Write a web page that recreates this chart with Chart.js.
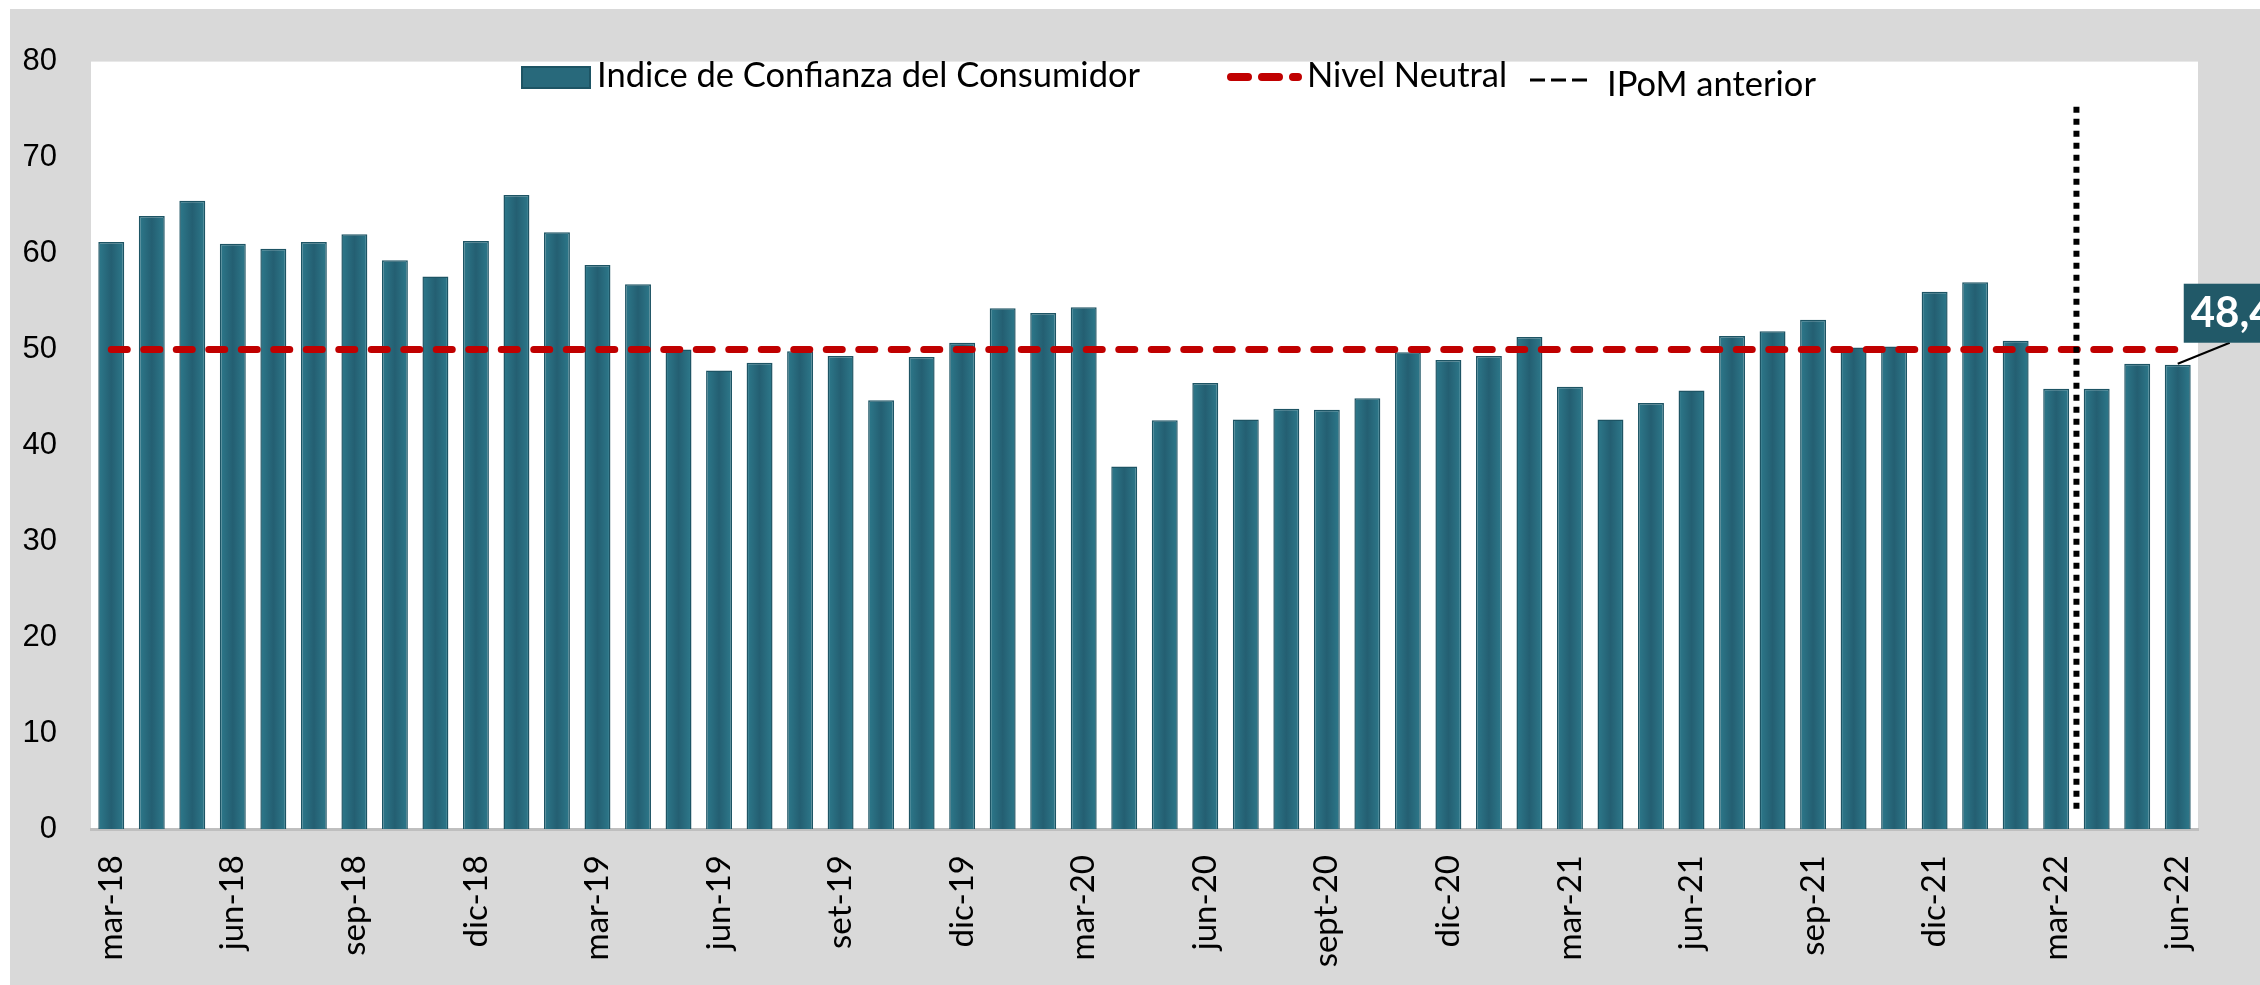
<!DOCTYPE html>
<html>
<head>
<meta charset="utf-8">
<script src="https://cdn.jsdelivr.net/npm/chart.js@4.4.0/dist/chart.umd.min.js"></script>
<style>
  html, body { margin: 0; padding: 0; background: #ffffff; }
  #marco {
    position: absolute; left: 10px; top: 9px;
    width: 2250px; height: 976px;
    background: #d9d9d9;
  }
  #grafico { display: block; width: 2250px; height: 976px; }
</style>
</head>
<body>
<div id="marco"><canvas id="grafico" width="2250" height="976"></canvas></div>
<script>
'use strict';

// meses (etiqueta en el eje cada tres)
var categorias = [
    'mar-18', 'abr-18', 'may-18', 'jun-18', 'jul-18', 'ago-18', 'sep-18', 'oct-18', 'nov-18', 'dic-18',
    'ene-19', 'feb-19', 'mar-19', 'abr-19', 'may-19', 'jun-19', 'jul-19', 'ago-19', 'set-19', 'oct-19', 'nov-19', 'dic-19',
    'ene-20', 'feb-20', 'mar-20', 'abr-20', 'may-20', 'jun-20', 'jul-20', 'ago-20', 'sept-20', 'oct-20', 'nov-20', 'dic-20',
    'ene-21', 'feb-21', 'mar-21', 'abr-21', 'may-21', 'jun-21', 'jul-21', 'ago-21', 'sep-21', 'oct-21', 'nov-21', 'dic-21',
    'ene-22', 'feb-22', 'mar-22', 'abr-22', 'may-22', 'jun-22'
];

// Indice de Confianza del Consumidor
var confianza = [
    61.2, 63.9, 65.5, 61.0, 60.5, 61.2, 62.0, 59.3, 57.6, 61.3,
    66.1, 62.2, 58.8, 56.8, 50.0, 47.8, 48.6, 49.8, 49.3, 44.7, 49.2, 50.7,
    54.3, 53.8, 54.4, 37.8, 42.6, 46.5, 42.7, 43.8, 43.7, 44.9, 49.7, 48.9,
    49.3, 51.3, 46.1, 42.7, 44.4, 45.7, 51.4, 51.9, 53.1, 50.2, 50.3, 56.0,
    57.0, 50.9, 45.9, 45.9, 48.5, 48.4
];

var nivelNeutral = [
    {x: 0, y: 50},
    {x: 51, y: 50}
];

// IPoM anterior: entre mar-22 y abr-22
var ipomAnterior = [
    {x: 48.5, y: 75.3},
    {x: 48.5, y: 1.5}
];

var ejeY = {min: 0, max: 80, paso: 10};
var cadaCuantos = 3;

var TEAL = '#28697b';
var TEAL_BORDE = '#1d5464';
var ROJO = '#c00000';
var FUENTE = 'Lato';

// fuente angosta para las fechas si esta instalada
function hayFuente(nombre) {
    var c = document.createElement('canvas').getContext('2d');
    c.font = '40px monospace';
    var a = c.measureText('mar-18 sept-20').width;
    c.font = '40px "' + nombre + '", monospace';
    var b = c.measureText('mar-18 sept-20').width;
    return a !== b;
}
var fuenteFechas = hayFuente('Liberation Sans Narrow') ?
    {family: 'Liberation Sans Narrow', size: 41} :
    {family: FUENTE, size: 33};

function degradadoBarra(context) {
    var chart = context.chart;
    if (!chart.chartArea || !chart.scales.x) {
        return TEAL;
    }
    var x = chart.scales.x.getPixelForValue(context.dataIndex);
    var g = chart.ctx.createLinearGradient(x - 13, 0, x + 13, 0);
    g.addColorStop(0, '#2d798b');
    g.addColorStop(0.5, '#245f72');
    g.addColorStop(1, '#2d798b');
    return g;
}

var fondoArea = {
    id: 'fondoArea',
    beforeDraw: function (chart) {
        var a = chart.chartArea;
        var ctx = chart.ctx;
        ctx.save();
        ctx.fillStyle = '#ffffff';
        ctx.fillRect(a.left, a.top, a.right - a.left, a.bottom - a.top);
        ctx.restore();
    }
};

// recuadro con el ultimo dato
var ultimoDato = {
    id: 'ultimoDato',
    afterDraw: function (chart) {
        var meta = chart.getDatasetMeta(2);
        var n = confianza.length - 1;
        var el = meta.data[n];
        var ctx = chart.ctx;
        var x = el.x, y = el.y;
        ctx.save();
        ctx.strokeStyle = '#000000';
        ctx.lineWidth = 2;
        ctx.beginPath();
        ctx.moveTo(x, y - 1);
        ctx.lineTo(x + 52, y - 22);
        ctx.stroke();
        ctx.fillStyle = '#215968';
        ctx.fillRect(x + 6, y - 81, 120, 59);
        ctx.fillStyle = '#ffffff';
        ctx.font = 'bold 42px ' + FUENTE;
        ctx.textBaseline = 'middle';
        ctx.textAlign = 'left';
        ctx.fillText(confianza[n].toFixed(1).replace('.', ','), x + 13, y - 51);
        ctx.restore();
    }
};

var leyenda = {
    id: 'leyenda',
    afterDraw: function (chart) {
        var ctx = chart.ctx;
        ctx.save();
        ctx.font = '34.5px ' + FUENTE;
        ctx.textBaseline = 'middle';

        // barras
        ctx.fillStyle = TEAL;
        ctx.strokeStyle = TEAL_BORDE;
        ctx.lineWidth = 2;
        ctx.fillRect(512, 58, 68, 21);
        ctx.strokeRect(512, 58, 68, 21);
        ctx.fillStyle = '#000000';
        ctx.fillText('Indice de Confianza del Consumidor', 587, 67);

        // nivel neutral
        ctx.strokeStyle = ROJO;
        ctx.lineWidth = 8;
        ctx.lineCap = 'round';
        ctx.setLineDash([17, 14]);
        ctx.beginPath();
        ctx.moveTo(1221, 68);
        ctx.lineTo(1288, 68);
        ctx.stroke();
        ctx.fillText('Nivel Neutral', 1297, 67);

        // IPoM anterior
        ctx.strokeStyle = '#000000';
        ctx.lineWidth = 3;
        ctx.lineCap = 'butt';
        ctx.setLineDash([15, 6]);
        ctx.beginPath();
        ctx.moveTo(1520, 71);
        ctx.lineTo(1578, 71);
        ctx.stroke();
        ctx.setLineDash([]);
        ctx.fillText('IPoM anterior', 1597, 76);
        ctx.restore();
    }
};

var ctx = document.getElementById('grafico');
var grafico = new Chart(ctx, {
    type: 'bar',
    data: {
        labels: categorias,
        datasets: [
            {
                type: 'line',
                label: 'IPoM anterior',
                data: ipomAnterior,
                xAxisID: 'x2',
                borderColor: '#000000',
                borderWidth: 6,
                borderDash: [6, 6],
                borderCapStyle: 'butt',
                pointRadius: 0,
                order: 1
            },
            {
                type: 'line',
                label: 'Nivel Neutral',
                data: nivelNeutral,
                xAxisID: 'x2',
                borderColor: ROJO,
                borderWidth: 7,
                borderDash: [16, 16.5],
                borderCapStyle: 'round',
                pointRadius: 0,
                order: 2
            },
            {
                label: 'Indice de Confianza del Consumidor',
                data: confianza,
                backgroundColor: degradadoBarra,
                borderColor: TEAL_BORDE,
                borderWidth: 1.5,
                grouped: false,
                barPercentage: 0.64,
                categoryPercentage: 1,
                order: 3
            }
        ]
    },
    options: {
        responsive: false,
        animation: false,
        devicePixelRatio: 1,
        layout: {
            padding: {left: 0, top: 46, right: 62, bottom: 0}
        },
        plugins: {
            legend: {display: false},
            tooltip: {enabled: false}
        },
        scales: {
            x: {
                grid: {display: false, drawTicks: false},
                border: {display: true, color: '#bfbfbf', width: 3},
                ticks: {
                    autoSkip: false,
                    minRotation: 90,
                    maxRotation: 90,
                    padding: 26,
                    color: '#000000',
                    font: fuenteFechas,
                    callback: function (value, index) {
                        return index % cadaCuantos === 0 ? this.getLabelForValue(value) : '';
                    }
                },
                afterFit: function (scale) { scale.height = 156; }
            },
            x2: {
                type: 'linear',
                display: false,
                offset: false,
                grid: {offset: false},
                min: -0.5,
                max: categorias.length - 0.5
            },
            y: {
                min: ejeY.min,
                max: ejeY.max,
                grid: {display: false, drawTicks: false},
                border: {display: false},
                ticks: {
                    stepSize: ejeY.paso,
                    padding: 34,
                    color: '#000000',
                    font: {family: 'Liberation Sans', size: 31}
                },
                afterFit: function (scale) { scale.width = 81; }
            }
        }
    },
    plugins: [fondoArea, ultimoDato, leyenda]
});
</script>
</body>
</html>
